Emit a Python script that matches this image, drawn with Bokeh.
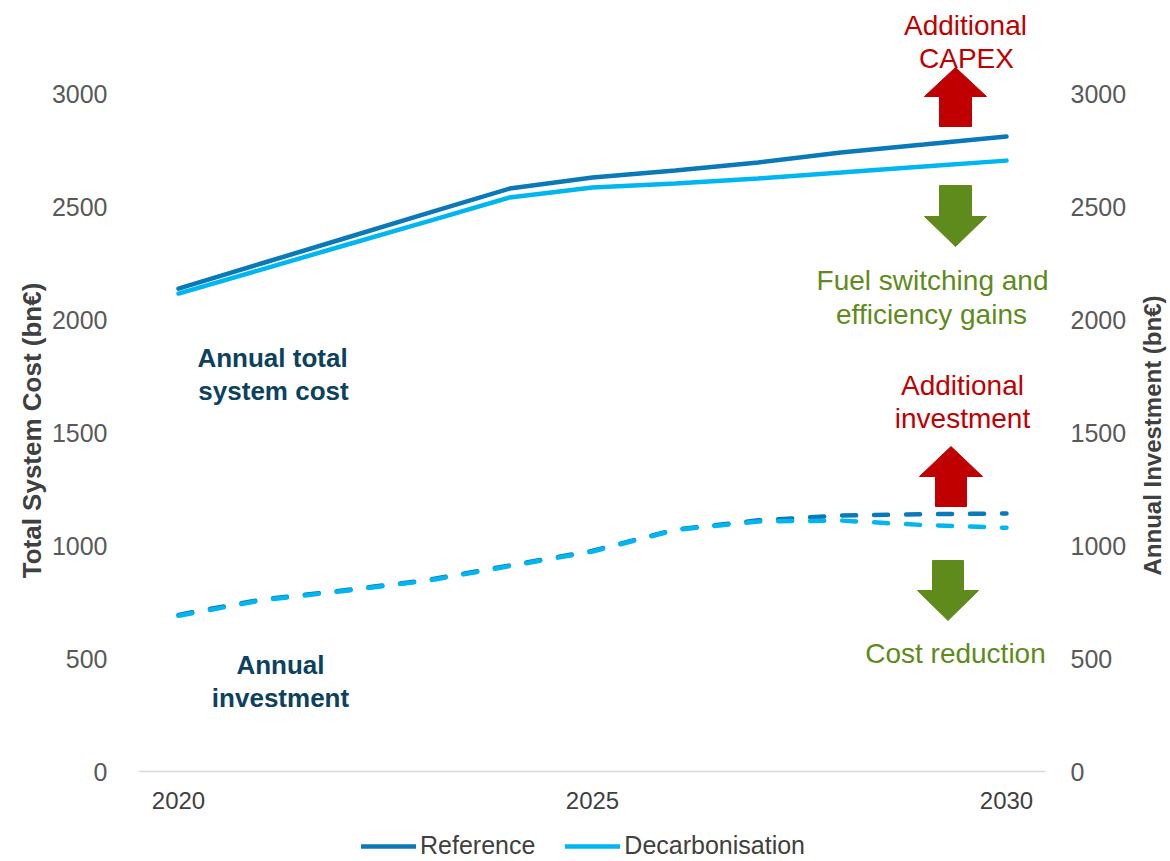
import math
from bokeh.plotting import figure
from bokeh.models import (ColumnDataSource, Range1d, FixedTicker,
                          Legend, LegendItem, Label)
from bokeh.core.properties import value
from bokeh.embed import file_html
from bokeh.resources import INLINE

# ---------------- data ----------------
years = [2020, 2021, 2022, 2023, 2024, 2025, 2026, 2027, 2028, 2029, 2030]
ref_cost = [2140, 2251, 2362, 2473, 2583, 2632, 2663, 2699, 2743, 2778, 2814]
dec_cost = [2118, 2224, 2331, 2437, 2544, 2588, 2606, 2628, 2654, 2681, 2707]
ref_inv = [694, 762, 803, 848, 913, 978, 1072, 1113, 1134, 1140, 1143]
dec_inv = [690, 758, 800, 845, 910, 975, 1070, 1108, 1112, 1092, 1080]
y_ticks = [0, 500, 1000, 1500, 2000, 2500, 3000]
y_tick_labels = ["0", "500", "1000", "1500", "2000", "2500", "3000"]
x_ticks = [2020, 2025, 2030]
series_names = ["Reference", "Decarbonisation"]

# ---------------- style ----------------
FONT = "Liberation Sans"
C_REF = "#0a79b8"
C_DEC = "#00b6f0"
C_RED = "#c00000"
C_GREEN = "#5f8b1c"
C_NAVY = "#0c4160"
C_TICK = "#595959"
C_TITLE = "#404040"

W, H = 1168, 860
LEFT = 138

# pixel -> data helpers for annotation placement
PX_PER_YEAR = 82.8
PX_PER_UNIT = 0.225667
def dx(px):
    return 2020 + (px - 178) / PX_PER_YEAR
def dy(py):
    return (771 - py) / PX_PER_UNIT

src = ColumnDataSource(dict(x=years, rc=ref_cost, dc=dec_cost, ri=ref_inv, di=dec_inv))

p = figure(width=W, height=H, output_backend="svg", toolbar_location=None,
           x_range=Range1d(dx(LEFT), dx(W)), y_range=Range1d(dy(H), dy(0)),
           min_border_left=LEFT, min_border_right=0, min_border_top=0,
           min_border_bottom=0)
p.outline_line_color = None
p.xgrid.visible = False
p.ygrid.visible = False
p.background_fill_color = "white"
p.border_fill_color = "white"

# baseline of the category axis (ends at the plot area's right edge)
p.segment(x0=[dx(LEFT)], y0=[0], x1=[dx(1045)], y1=[0], line_color="#d9d9d9", line_width=1.5)

# lines
p.line("x", "ri", source=src, line_color=C_REF, line_width=4.5, line_dash="14 18", line_cap="round")
p.line("x", "di", source=src, line_color=C_DEC, line_width=4.5, line_dash="14 18", line_cap="round")
r_ref = p.line("x", "rc", source=src, line_color=C_REF, line_width=4.5, line_cap="round")
r_dec = p.line("x", "dc", source=src, line_color=C_DEC, line_width=4.5, line_cap="round")

# x axis placed at y = 0 inside the frame
p.xaxis.fixed_location = 0
p.xaxis.ticker = FixedTicker(ticks=x_ticks)
p.xaxis.axis_line_color = None
p.xaxis.major_tick_line_color = None
p.xaxis.minor_tick_line_color = None
p.xaxis.major_label_text_font = FONT
p.xaxis.major_label_text_font_size = "24px"
p.xaxis.major_label_text_color = C_TITLE
p.xaxis.major_label_standoff = 14

# left axis
ax = p.yaxis[0]
ax.ticker = FixedTicker(ticks=y_ticks)
ax.axis_line_color = None
ax.major_tick_line_color = None
ax.minor_tick_line_color = None
ax.major_label_text_font = FONT
ax.major_label_text_font_size = "25px"
ax.major_label_text_color = C_TICK
ax.major_label_standoff = 25
ax.axis_label = "Total System Cost (bn€)"
ax.axis_label_text_font = FONT
ax.axis_label_text_font_size = "26px"
ax.axis_label_text_font_style = "bold"
ax.axis_label_text_color = C_TITLE
ax.axis_label_standoff = 2

# right (secondary) axis, same scale: tick labels and title
rsrc = ColumnDataSource(dict(x=[dx(1070)] * len(y_ticks), y=y_ticks, t=y_tick_labels))
p.text("x", "y", text="t", source=rsrc, text_font=value(FONT), text_font_size="25px",
       text_color=C_TICK, text_align="left", text_baseline="middle")
p.text(x=[dx(1152)], y=[dy(435)], text=["Annual Investment (bn€)"], angle=math.pi / 2,
       text_font=value(FONT), text_font_size="24px", text_font_style="bold",
       text_color=C_TITLE, text_align="center", text_baseline="middle")

# legend
legend = Legend(items=[LegendItem(label=series_names[0], renderers=[r_ref]),
                       LegendItem(label=series_names[1], renderers=[r_dec])],
                orientation="horizontal", location=(223, 0),
                label_text_font=FONT, label_text_font_size="25px",
                label_text_color=C_TITLE, glyph_width=55, glyph_height=26,
                label_standoff=4, spacing=30, padding=1, margin=0,
                border_line_color=None, background_fill_alpha=0)
p.add_layout(legend, "center")

# ---------------- annotations ----------------
def txt(s, px, py, color, size="28px", bold=False):
    p.add_layout(Label(x=dx(px), y=dy(py), text=s, text_align="center",
                       text_baseline="middle", text_font=FONT, text_font_size=size,
                       text_font_style="bold" if bold else "normal", text_color=color))

def arrow(cx, top, head, bottom, shaft_w, head_w, color, up=True):
    hs, hh = shaft_w / 2, head_w / 2
    if up:
        xs = [cx, cx + hh, cx + hs, cx + hs, cx - hs, cx - hs, cx - hh]
        ys = [top, head, head, bottom, bottom, head, head]
    else:
        xs = [cx - hs, cx + hs, cx + hs, cx + hh, cx, cx - hh, cx - hs]
        ys = [top, top, head, head, bottom, head, head]
    p.patch([dx(v) for v in xs], [dy(v) for v in ys], fill_color=color, line_color=color)

txt("Additional", 965, 25, C_RED)
txt("CAPEX", 966, 58, C_RED)
arrow(955, 67, 96, 126, 32, 62, C_RED, up=True)
arrow(955, 185, 216, 246, 32, 62, C_GREEN, up=False)
txt("Fuel switching and", 932, 280, C_GREEN)
txt("efficiency gains", 931, 314, C_GREEN)
txt("Additional", 962, 385, C_RED)
txt("investment", 962, 418, C_RED)
arrow(950.5, 446, 476, 506, 31, 63, C_RED, up=True)
arrow(947.5, 560, 590, 620, 31, 61, C_GREEN, up=False)
txt("Cost reduction", 955, 653, C_GREEN)

txt("Annual total", 272, 357, C_NAVY, size="26px", bold=True)
txt("system cost", 273, 390, C_NAVY, size="26px", bold=True)
txt("Annual", 280, 664, C_NAVY, size="26px", bold=True)
txt("investment", 280, 697, C_NAVY, size="26px", bold=True)

open("out.html", "w").write(file_html(p, INLINE))
